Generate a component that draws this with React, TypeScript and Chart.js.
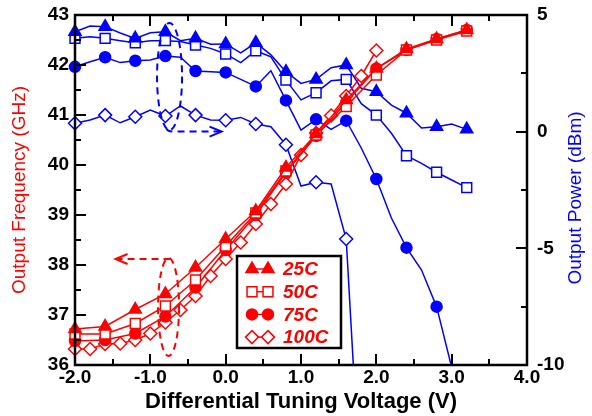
import React, { useEffect, useRef } from "react";
import { Chart, registerables } from "chart.js";

Chart.register(...registerables);

// ---- data ----
const voltsCoarse = [-2.0, -1.6, -1.2, -0.8, -0.4, 0.0, 0.4, 0.8, 1.2, 1.6, 2.0, 2.4, 2.8, 3.2];
const voltsFine = [-2.0, -1.8, -1.6, -1.4, -1.2, -1.0, -0.8, -0.6, -0.4, -0.2, 0.0, 0.2, 0.4, 0.6, 0.8, 1.0, 1.2, 1.4, 1.6, 1.8, 2.0, 2.2, 2.4, 2.6, 2.8, 3.0, 3.2];

const tempLabels = ["25C", "50C", "75C", "100C"];

// Output frequency (GHz), left axis
const freq25C = [36.72, 36.77, 37.11, 37.42, 37.95, 38.52, 39.08, 39.95, 40.62, 41.3, 41.93, 42.32, 42.52, 42.7];
const freq50C = [36.62, 36.62, 36.83, 37.18, 37.7, 38.38, 39.04, 39.88, 40.6, 41.17, 41.8, 42.3, 42.5, 42.68];
const freq75C = [36.48, 36.5, 36.63, 36.97, 37.55, 38.3, 39.0, 39.85, 40.58, 41.25, 41.93, 42.3, 42.52, 42.7];
const freq100C = [36.32, 36.32, 36.42, 36.43, 36.5, 36.63, 36.85, 37.1, 37.38, 37.78, 38.12, 38.45, 38.82, 39.22, 39.62, 40.2, 40.64, 40.99, 41.38, 41.78, 42.29];

// Output power (dBm), right axis
const power25C = [4.28, 4.53, 4.5, 4.23, 4.0, 4.24, 4.28, 3.9, 4.0, 3.75, 3.76, 3.38, 3.81, 3.29, 2.57, 2.07, 2.24, 2.74, 2.86, 1.86, 1.71, 1.14, 0.79, 0.16, 0.21, 0.33, 0.1];
const power50C = [4.0, 4.07, 4.0, 3.9, 3.81, 3.9, 3.9, 3.86, 3.71, 3.57, 3.33, 2.96, 3.47, 3.21, 2.21, 1.36, 1.67, 2.18, 2.24, 1.2, 0.71, -0.07, -1.03, -1.36, -1.74, -2.07, -2.4];
const power75C = [2.78, 3.0, 3.19, 2.96, 3.04, 3.07, 3.24, 3.19, 2.6, 2.57, 2.54, 2.24, 1.94, 2.61, 1.34, 0.07, 0.53, 0.1, 0.47, -0.7, -2.03, -3.7, -4.97, -5.93, -7.5, -10.1];
const power100C = [0.36, 0.5, 0.71, 0.38, 0.64, 0.93, 0.67, 1.1, 0.71, 0.5, 0.49, 0.61, 0.33, 0.21, -0.56, -2.33, -2.17, -2.24, -4.6, -16];

const xTickMin = -2, xTickMax = 4, xStep = 1;
const yFreqMin = 36, yFreqMax = 43, yFreqStep = 1;
const yPowMin = -10, yPowMax = 5, yPowStep = 5;

const RED = "#ff0000";
const BLUE = "#0000ff";
const FONT = "'Liberation Sans', Arial, Helvetica, sans-serif";

const shapes = ["triangle", "rect", "circle", "rectRot"];
const radii = [7, 7, 5.5, 6.5];
const filled = [true, false, true, false];

const pts = (xs: number[], ys: number[]) => ys.map((y, i) => ({ x: xs[i], y }));

function series(label: string, xs: number[], ys: number[], k: number, color: string, axis: string, every: number) {
  return {
    label,
    data: pts(xs, ys),
    yAxisID: axis,
    borderColor: color,
    borderWidth: 1.5,
    pointStyle: shapes[k],
    pointRadius: (c: any) => (c.dataIndex % every === 0 ? radii[k] : 0),
    pointBorderWidth: 1.5,
    pointBorderColor: color,
    pointBackgroundColor: filled[k] ? color : "#ffffff",
    backgroundColor: filled[k] ? color : "#ffffff",
    tension: 0,
    clip: { left: 12, right: 12, top: 12, bottom: 0 },
  };
}

function drawShape(ctx: CanvasRenderingContext2D, k: number, x: number, y: number, color: string) {
  const r = radii[k];
  ctx.beginPath();
  if (k === 0) {
    for (let i = 0; i < 3; i++) {
      const a = (i * 2 * Math.PI) / 3;
      const px = x + Math.sin(a) * r, py = y - Math.cos(a) * r;
      if (i === 0) ctx.moveTo(px, py); else ctx.lineTo(px, py);
    }
    ctx.closePath();
  } else if (k === 1) {
    const s = Math.SQRT1_2 * r;
    ctx.rect(x - s, y - s, 2 * s, 2 * s);
  } else if (k === 2) {
    ctx.arc(x, y, r, 0, Math.PI * 2);
  } else {
    ctx.moveTo(x - r, y); ctx.lineTo(x, y - r); ctx.lineTo(x + r, y); ctx.lineTo(x, y + r); ctx.closePath();
  }
  ctx.fillStyle = filled[k] ? color : "#ffffff";
  ctx.fill();
  ctx.lineWidth = 1.5;
  ctx.strokeStyle = color;
  ctx.stroke();
}

const decor = {
  id: "decor",
  afterDraw(chart: any) {
    const ctx: CanvasRenderingContext2D = chart.ctx;
    const { left, right, top, bottom } = chart.chartArea;
    const sx = chart.scales.x, sy = chart.scales.y, sy1 = chart.scales.y1;
    ctx.save();
    // ticks (inward)
    ctx.strokeStyle = "#000";
    ctx.lineWidth = 2;
    ctx.beginPath();
    for (let v = xTickMin; v <= xTickMax + 1e-9; v += xStep / 2) {
      const p = Math.round(sx.getPixelForValue(v));
      const len = Math.abs(v - Math.round(v)) < 1e-9 ? 11 : 6;
      ctx.moveTo(p, bottom); ctx.lineTo(p, bottom - len);
      ctx.moveTo(p, top); ctx.lineTo(p, top + len);
    }
    for (let v = yFreqMin; v <= yFreqMax + 1e-9; v += yFreqStep / 2) {
      const p = Math.round(sy.getPixelForValue(v));
      const len = Math.abs(v - Math.round(v)) < 1e-9 ? 11 : 6;
      ctx.moveTo(left, p); ctx.lineTo(left + len, p);
    }
    for (let v = yPowMin; v <= yPowMax + 1e-9; v += yPowStep / 2) {
      const p = Math.round(sy1.getPixelForValue(v));
      const len = Math.abs(v / yPowStep - Math.round(v / yPowStep)) < 1e-9 ? 11 : 6;
      ctx.moveTo(right, p); ctx.lineTo(right - len, p);
    }
    ctx.stroke();
    // frame
    ctx.lineWidth = 2.5;
    ctx.strokeRect(left, top, right - left, bottom - top);

    // blue ellipse + arrow
    const bx = sx.getPixelForValue(-0.745), by = sy1.getPixelForValue(2.36);
    ctx.strokeStyle = BLUE;
    ctx.lineWidth = 2;
    ctx.setLineDash([7, 5]);
    ctx.beginPath();
    ctx.ellipse(bx, by, 12.5, 53.5, 0, 0, Math.PI * 2);
    ctx.stroke();
    ctx.beginPath();
    ctx.moveTo(bx - 3, by + 52);
    ctx.quadraticCurveTo(bx - 2, by + 55, bx + 4, by + 55);
    ctx.lineTo(bx + 50, by + 55);
    ctx.stroke();
    ctx.setLineDash([]);
    ctx.beginPath();
    ctx.moveTo(bx + 40, by + 50); ctx.lineTo(bx + 52, by + 55); ctx.lineTo(bx + 40, by + 60);
    ctx.stroke();

    // red ellipse + arrow
    const rx = sx.getPixelForValue(-0.758), ry = sy.getPixelForValue(37.16);
    ctx.strokeStyle = RED;
    ctx.setLineDash([7, 5]);
    ctx.beginPath();
    ctx.ellipse(rx, ry, 10.5, 49, 0, 0, Math.PI * 2);
    ctx.stroke();
    ctx.beginPath();
    ctx.moveTo(rx + 2, ry - 48);
    ctx.lineTo(rx - 52, ry - 48);
    ctx.stroke();
    ctx.setLineDash([]);
    ctx.beginPath();
    ctx.moveTo(rx - 41, ry - 53); ctx.lineTo(rx - 53, ry - 48); ctx.lineTo(rx - 41, ry - 43);
    ctx.stroke();

    // legend
    const lx = left + 162, ly = top + 241, lw = 104, lh = 92;
    ctx.fillStyle = "#fff";
    ctx.fillRect(lx, ly, lw, lh);
    ctx.strokeStyle = "#000";
    ctx.lineWidth = 2.5;
    ctx.strokeRect(lx, ly, lw, lh);
    ctx.font = `italic bold 19px ${FONT}`;
    ctx.textBaseline = "middle";
    ctx.textAlign = "left";
    tempLabels.forEach((t, k) => {
      const yy = ly + 13 + k * 22.7;
      ctx.strokeStyle = RED;
      ctx.lineWidth = 1.5;
      ctx.beginPath();
      ctx.moveTo(lx + 15, yy); ctx.lineTo(lx + 31, yy);
      ctx.stroke();
      drawShape(ctx, k, lx + 15, yy, RED);
      drawShape(ctx, k, lx + 31, yy, RED);
      ctx.fillStyle = RED;
      ctx.fillText(t, lx + 46, yy + 1);
    });

    // right axis title (reads bottom-to-top)
    ctx.save();
    ctx.translate(576, (top + bottom) / 2 + 8);
    ctx.rotate(-Math.PI / 2);
    ctx.font = `19px ${FONT}`;
    ctx.fillStyle = BLUE;
    ctx.textAlign = "center";
    ctx.textBaseline = "middle";
    ctx.fillText("Output Power (dBm)", 0, 0);
    ctx.restore();

    ctx.restore();
  },
};

export default function App() {
  const ref = useRef<HTMLCanvasElement>(null);
  useEffect(() => {
    const canvas = ref.current!;
    const tickFont = { family: FONT, size: 19, weight: "bold" as const };
    const chart = new Chart(canvas, {
      type: "line",
      data: {
        datasets: [
          series(tempLabels[0], voltsCoarse, freq25C, 0, RED, "y", 1),
          series(tempLabels[1], voltsCoarse, freq50C, 1, RED, "y", 1),
          series(tempLabels[2], voltsCoarse, freq75C, 2, RED, "y", 1),
          series(tempLabels[3], voltsFine, freq100C, 3, RED, "y", 1),
          series("P " + tempLabels[0], voltsFine, power25C, 0, BLUE, "y1", 2),
          series("P " + tempLabels[1], voltsFine, power50C, 1, BLUE, "y1", 2),
          series("P " + tempLabels[2], voltsFine, power75C, 2, BLUE, "y1", 2),
          series("P " + tempLabels[3], voltsFine, power100C, 3, BLUE, "y1", 2),
        ] as any,
      },
      options: {
        animation: false,
        responsive: false,
        devicePixelRatio: 1,
        layout: { padding: { top: 15, left: 0, right: 0, bottom: 0 } },
        plugins: { legend: { display: false }, tooltip: { enabled: false } },
        scales: {
          x: {
            type: "linear",
            position: "bottom",
            min: xTickMin,
            max: xTickMax,
            grid: { display: false },
            border: { display: false },
            ticks: { stepSize: xStep, autoSkip: false, maxRotation: 0, padding: -7, color: "#000", font: tickFont, callback: (v: any) => Number(v).toFixed(1) },
            title: { display: true, text: "Differential Tuning Voltage (V)", color: "#000", font: { family: FONT, size: 22, weight: "bold" }, padding: { top: 0, bottom: 1 } },
            afterFit: (s: any) => { s.height = 51; },
          },
          y: {
            type: "linear",
            position: "left",
            min: yFreqMin,
            max: yFreqMax,
            grid: { display: false },
            border: { display: false },
            ticks: { stepSize: yFreqStep, padding: -2, color: "#000", font: tickFont },
            title: { display: true, text: "Output Frequency (GHz)", color: RED, font: { family: FONT, size: 19 }, padding: { top: 8, bottom: 0 } },
            afterFit: (s: any) => { s.width = 75; },
          },
          y1: {
            type: "linear",
            position: "right",
            min: yPowMin,
            max: yPowMax,
            grid: { display: false },
            border: { display: false },
            ticks: { stepSize: yPowStep, padding: 2, color: "#000", font: tickFont },
            afterFit: (s: any) => { s.width = 65; },
          },
        },
      } as any,
      plugins: [decor],
    });
    return () => chart.destroy();
  }, []);
  return (
    <div style={{ position: "fixed", left: 0, top: 0, width: 592, height: 416, background: "#fff" }}>
      <canvas ref={ref} width={592} height={416} style={{ display: "block", width: 592, height: 416 }} />
    </div>
  );
}
